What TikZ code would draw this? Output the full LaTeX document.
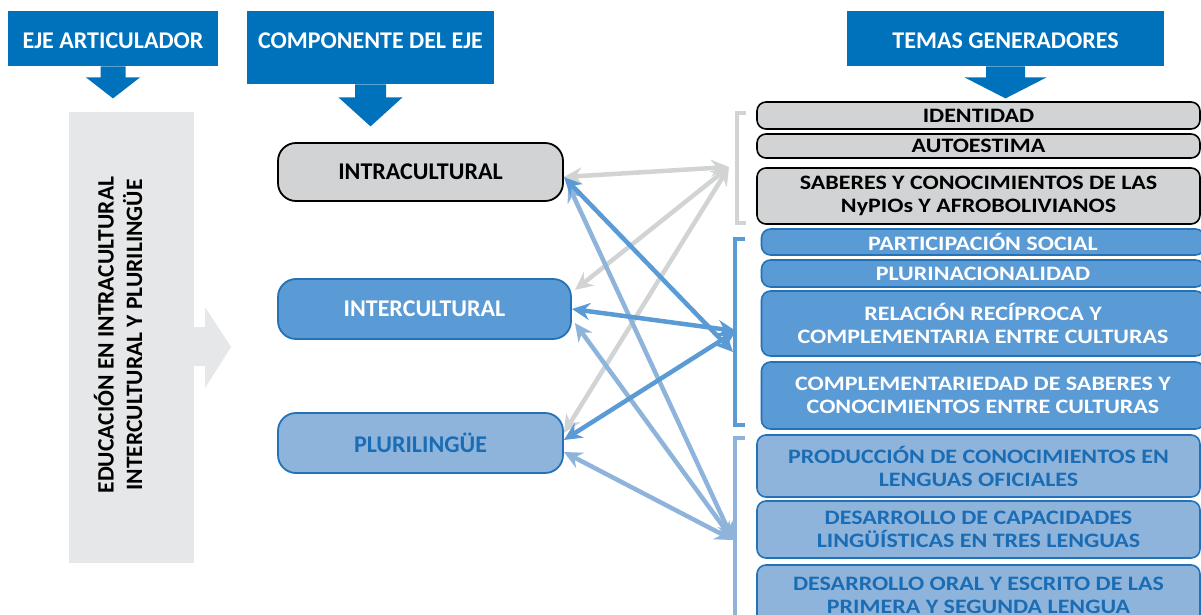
\documentclass[tikz,border=0pt]{standalone}
\usepackage{fontspec}
\setmainfont{Carlito}
\newfontfamily\temafont[FakeStretch=1.17]{Carlito}
\usetikzlibrary{arrows.meta}

\definecolor{hdrblue}{HTML}{0071BB}
\definecolor{edugray}{HTML}{E6E7E8}
\definecolor{midgray}{HTML}{D1D3D4}
\definecolor{midblue}{HTML}{5B9BD5}
\definecolor{lightblue}{HTML}{8FB4DC}
\definecolor{lineblue}{HTML}{2372B8}
\definecolor{textblue}{HTML}{1A6DB4}

% down arrow below a header: node, stem half width, stem length, head half width, head length
\newcommand\headarrow[5]{%
  \fill[hdrblue] (#1.south) ++(-#2,0) -- ++(0,#3) -- ++(#2-#4,0) -- ++(#4,#5)
    -- ++(#4,-#5) -- ++(#2-#4,0) -- ++(0,-#3) -- cycle;}

\begin{document}
\begin{tikzpicture}[x=1pt,y=-1pt,
    hdr/.style={fill=hdrblue,text=white,anchor=north,inner xsep=0pt,inner ysep=0pt,text height=37pt,text depth=18pt,font=\fontsize{24}{28}\selectfont\bfseries},
    comp/.style={rounded corners=18pt,line width=1.8pt,minimum width=285pt,minimum height=60pt,inner sep=0pt,font=\fontsize{24}{28}\selectfont\bfseries},
    tema/.style={rounded corners=9pt,line width=1.6pt,minimum width=443pt,inner sep=0pt,align=center,font=\temafont\fontsize{20.5}{23}\selectfont\bfseries},
    gtema/.style={tema,draw=black,fill=midgray,text=black},
    mtema/.style={tema,draw=lineblue,fill=midblue,text=white},
    ltema/.style={tema,draw=lineblue,fill=lightblue,text=textblue},
    link/.style={<->,>={Stealth[length=18pt,width=17pt,inset=6pt]},line width=4.5pt},
    brace/.style={line width=4.5pt}]
  \useasboundingbox (0,0) rectangle (1201,615);

  % headers
  \node[hdr,minimum width=210pt] (art) at (113,11) {EJE ARTICULADOR};
  \node[hdr,minimum width=247pt,text depth=36pt] (compo) at (370.5,11) {COMPONENTE DEL EJE};
  \node[hdr,minimum width=317pt] (temas) at (1005.5,11) {TEMAS GENERADORES};
  \headarrow{art}{12.5}{11}{27}{21}
  \headarrow{compo}{15.5}{13}{32}{29}
  \headarrow{temas}{19.5}{11}{41}{21}

  % eje articulador
  \node[fill=edugray,minimum width=125pt,minimum height=451pt,inner sep=0pt] (edu) at (131.5,337.5) {};
  \node[rotate=90,align=center,font=\fontsize{23.5}{28.5}\selectfont\bfseries] (eduText) at (118,335)
    {EDUCACIÓN EN INTRACULTURAL\\INTERCULTURAL Y PLURILINGÜE};
  \fill[edugray] (194,327) -- (205,327) -- (205,307) -- (231,347) -- (205,388) -- (205,366) -- (194,366) -- cycle;

  % componentes
  \node[comp,draw=black,fill=midgray,minimum height=58pt] (intra) at (420.5,172) {INTRACULTURAL};
  \node[comp,draw=lineblue,fill=midblue,text=white,minimum width=293pt] (inter) at (424.5,309) {INTERCULTURAL};
  \node[comp,draw=lineblue,fill=lightblue,text=textblue] (pluri) at (420.5,443) {PLURILINGÜE};

  % temas generadores
  \node[gtema,minimum height=27pt] (iden) at (978.5,115.5) {IDENTIDAD};
  \node[gtema,minimum height=24pt] (auto) at (978.5,146) {AUTOESTIMA};
  \node[gtema,minimum height=56pt] (saber) at (978.5,196) {SABERES Y CONOCIMIENTOS DE LAS\\NyPIOs Y AFROBOLIVIANOS};
  \node[mtema,minimum height=26pt] (partic) at (983,242) {PARTICIPACIÓN SOCIAL};
  \node[mtema,minimum height=27pt] (plurin) at (983,273.5) {PLURINACIONALIDAD};
  \node[mtema,minimum height=65pt] (relac) at (983,323.5) {RELACIÓN RECÍPROCA Y\\COMPLEMENTARIA ENTRE CULTURAS};
  \node[mtema,minimum height=67pt] (compl) at (983,395.5) {COMPLEMENTARIEDAD DE SABERES Y\\CONOCIMIENTOS ENTRE CULTURAS};
  \node[ltema,minimum height=62pt] (produc) at (978.5,466) {PRODUCCIÓN DE CONOCIMIENTOS EN\\LENGUAS OFICIALES};
  \node[ltema,minimum height=57pt] (desCap) at (978.5,529.5) {DESARROLLO DE CAPACIDADES\\LINGÜÍSTICAS EN TRES LENGUAS};
  \node[ltema,minimum height=60pt] (desOral) at (978.5,595) {DESARROLLO ORAL Y ESCRITO DE LAS\\PRIMERA Y SEGUNDA LENGUA};

  % brackets
  \draw[brace,midgray] (746,113) -- (737,113) -- (737,223) -- (746,223);
  \draw[brace,midblue] (745,239) -- (735,239) -- (735,425) -- (745,425);
  \draw[brace,lightblue] (745,438) -- (735,438) -- (735,640);

  \coordinate (gtip) at (729,167);
  \coordinate (mtip) at (736,331);
  \coordinate (mtipB) at (733,352);
  \coordinate (ltip) at (733,540);

  % links
  \path[link,midgray]
    ([yshift=-5pt]intra.east) edge (gtip)
    ([xshift=3pt,yshift=19pt]inter.east) edge (gtip)
    ([yshift=10pt]pluri.east) edge (gtip);
  \path[link,lightblue]
    ([xshift=4pt,yshift=-12pt]intra.east) edge (ltip)
    ([xshift=3pt,yshift=-14pt]inter.east) edge (ltip)
    ([yshift=-9pt]pluri.east) edge (ltip);
  \path[link,midblue]
    ([yshift=-5pt]intra.east) edge (mtipB)
    (inter.east) edge (mtip)
    ([yshift=3pt]pluri.east) edge (mtip);
\end{tikzpicture}
\end{document}
